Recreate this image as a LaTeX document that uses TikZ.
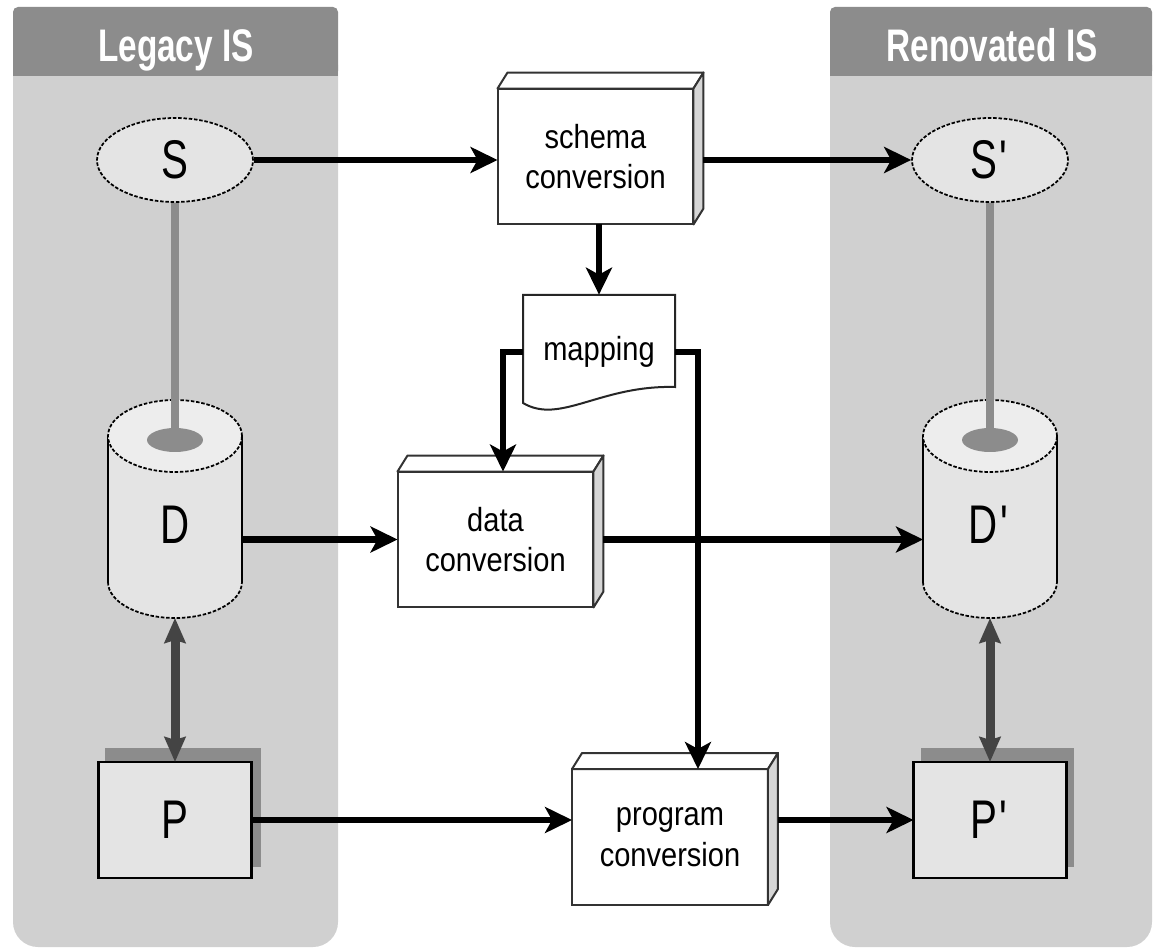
\documentclass[tikz,border=0pt]{standalone}
\usepackage{fontspec}
\newfontfamily\condsans[FakeStretch=0.87]{Liberation Sans}
\newfontfamily\lblsans[FakeStretch=0.74]{Liberation Sans}
\newfontfamily\hdrsans[FakeStretch=0.73]{Liberation Sans}
\usetikzlibrary{arrows.meta,calc,shapes.geometric}
\definecolor{panelgray}{HTML}{D0D0D0}
\definecolor{hdrgray}{HTML}{8C8C8C}
\definecolor{fillgray}{HTML}{E4E4E4}
\definecolor{cyltop}{HTML}{EDEDED}
\definecolor{sidegray}{HTML}{D6D6D6}
\definecolor{darkarrow}{HTML}{444444}
\definecolor{linkgray}{HTML}{8C8C8C}
\newcommand\mycyl[2]{%
  \node[minimum width=2.68cm, minimum height=4.36cm, inner sep=0, outer sep=0] (#1) at (#2,509) {};
  \fill[fillgray] ({#2-67},436) -- ({#2-67},582) arc[start angle=180,end angle=360,x radius=1.34cm,y radius=0.72cm] -- ({#2+67},436) -- cycle;
  \draw[cylside] ({#2-67},436) -- ({#2-67},582);
  \draw[cylside] ({#2+67},436) -- ({#2+67},582);
  \draw[cylrim] ({#2-67},582) arc[start angle=180,end angle=360,x radius=1.34cm,y radius=0.72cm];
  \fill[cyltop] (#2,436) ellipse[x radius=1.34cm, y radius=0.72cm];
  \draw[cylrim] (#2,436) ellipse[x radius=1.34cm, y radius=0.72cm];
}
\newcommand\boxfaces[1]{%
  \draw[topface] (#1.north west) -- ++(10,-16) -- ([shift={(10,-16)}]#1.north east) -- (#1.north east) -- cycle;
  \draw[sideface] (#1.north east) -- ++(10,-16) -- ([shift={(10,-16)}]#1.south east) -- (#1.south east) -- cycle;
}
\newcommand\primed[1]{#1\kern1.5pt\textquotesingle}
\begin{document}
\begin{tikzpicture}[x=0.02cm,y=-0.02cm,
  hdrtext/.style={text=white, font=\hdrsans\bfseries\fontsize{26}{30}\selectfont, anchor=base, inner sep=0},
  bigtext/.style={font=\lblsans\fontsize{31}{36}\selectfont, anchor=base, inner sep=0},
  procbox/.style={draw=black!80, line width=0.04cm, fill=white, minimum width=3.92cm, minimum height=2.72cm, inner sep=0, outer sep=0, align=center, font=\condsans\fontsize{19}{23.2}\selectfont},
  topface/.style={draw=black!80, line width=0.04cm, fill=white, line join=round},
  sideface/.style={draw=black!80, line width=0.04cm, fill=sidegray, line join=round},
  ellnode/.style={ellipse, fill=fillgray, draw=black, line width=0.035cm, dash pattern=on 2pt off 1pt, minimum width=3.12cm, minimum height=1.68cm, inner sep=0, font=\lblsans\fontsize{31}{36}\selectfont},
  cylside/.style={draw=black, line width=0.035cm},
  cylrim/.style={draw=black, line width=0.035cm, dash pattern=on 2pt off 1pt},
  pbox/.style={draw=black, line width=0.05cm, fill=fillgray, minimum width=3.06cm, minimum height=2.32cm, inner sep=0, outer sep=0, font=\lblsans\fontsize{31}{36}\selectfont},
  shadowbox/.style={fill=hdrgray},
  greylink/.style={draw=linkgray, line width=0.17cm},
  dbl/.style={draw=darkarrow, line width=0.18cm, {Stealth[length=0.5cm,width=0.42cm,inset=0.06cm]}-{Stealth[length=0.5cm,width=0.42cm,inset=0.06cm]}},
  conn/.style={draw=black, line width=0.13cm, -{Stealth[length=0.54cm,width=0.52cm,inset=0.14cm]}},
  docface/.style={draw=black!85, line width=0.04cm, fill=white}
]
\useasboundingbox (0,0) rectangle (1153,949);
\fill[white] (0,0) rectangle (1153,949);
% panels
\fill[panelgray, rounded corners=0.5cm] (13,40) rectangle (338,947);
\fill[hdrgray, rounded corners=0.1cm] (13,7) rectangle (338,76);
\fill[hdrgray] (13,60) rectangle (338,76);
\fill[panelgray, rounded corners=0.5cm] (830,40) rectangle (1152,947);
\fill[hdrgray, rounded corners=0.1cm] (830,7) rectangle (1152,76);
\fill[hdrgray] (830,60) rectangle (1152,76);
\node[hdrtext] (lh) at (176,62) {Legacy IS};
\node[hdrtext] (rh) at (992,62) {Renovated IS};
% schema ellipses
\node[ellnode] (S) at (175,160) {S};
\node[ellnode] (S2) at (990,160) {\primed{S}};
% cylinders
\mycyl{Dcyl}{175}
\mycyl{D2cyl}{990}
\coordinate (Dhole) at (175,440);
\coordinate (D2hole) at (990,440);
\draw[greylink] (S.south) -- (Dhole);
\draw[greylink] (S2.south) -- (D2hole);
\fill[linkgray] (Dhole) ellipse[x radius=0.56cm, y radius=0.24cm];
\fill[linkgray] (D2hole) ellipse[x radius=0.56cm, y radius=0.24cm];
\node[bigtext] (Dtext) at (175,543) {D};
\node[bigtext] (D2text) at (990,543) {\primed{D}};
% program boxes with shadows
\fill[shadowbox] (105,748) rectangle (261,867);
\fill[shadowbox] (921,748) rectangle (1074,867);
\node[pbox] (P) at (175,820) {P};
\node[pbox] (P2) at (990,820) {\primed{P}};
\draw[dbl] (Dcyl.south) -- (P.north);
\draw[dbl] (D2cyl.south) -- (P2.north);
% process boxes
\node[procbox] (sc) at (595.5,156.5) {schema\\conversion};
\boxfaces{sc}
\node[procbox] (dc) at (495.5,539.5) {data\\conversion};
\boxfaces{dc}
\node[procbox] (pc) at (670,837) {program\\conversion};
\boxfaces{pc}
% mapping document
\filldraw[docface] (523,295) -- (675,295) -- (675,387) .. controls (600,385) and (560,425) .. (523,403) -- cycle;
\node[inner sep=0, minimum width=3.04cm, minimum height=2.28cm, font=\condsans\fontsize{19}{23.2}\selectfont] (map) at (599,352) {mapping};
% connectors
\coordinate (scR) at ([xshift=0.2cm]sc.east);
\coordinate (dcR) at ([xshift=0.2cm]dc.east);
\coordinate (pcR) at ([xshift=0.2cm]pc.east);
\draw[conn] (S.east) -- (S.east -| sc.west);
\draw[conn] (scR |- S2.west) -- (S2.west);
\draw[conn] (map.north |- sc.south) -- (map.north);
\draw[conn] (map.west) -| ([xshift=0.15cm]dc.north);
\draw[conn] (map.east) -| ([xshift=0.56cm]pc.north);
\draw[conn] (Dcyl.east |- dc.west) -- (dc.west);
\draw[conn] (dcR) -- (dcR -| D2cyl.west);
\draw[conn] (P.east) -- (P.east -| pc.west);
\draw[conn] (pcR |- P2.west) -- (P2.west);
\end{tikzpicture}
\end{document}
